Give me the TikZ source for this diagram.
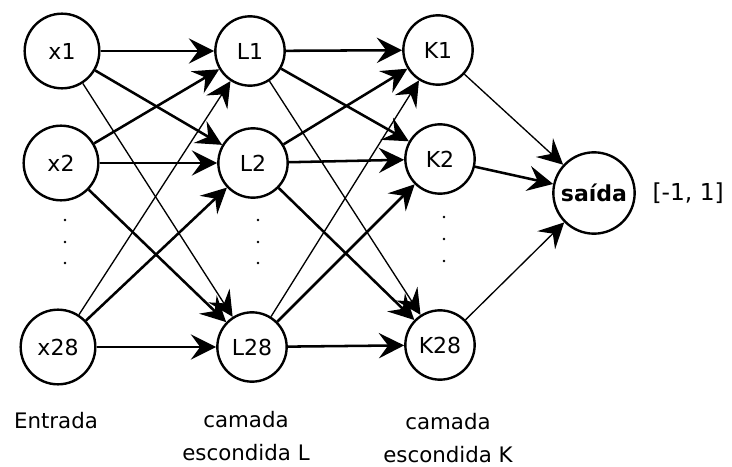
\documentclass[tikz,border=0pt]{standalone}
\usepackage{fontspec}
\setmainfont{DejaVu Sans}
\usetikzlibrary{arrows.meta, positioning}

\begin{document}
\begin{tikzpicture}[x=0.75pt, y=-0.75pt]
    \tikzset{
  neuron/.style={circle, draw=black, fill=white, line width=1.8pt,
    minimum size=56pt, inner sep=0pt, font=\fontsize{16.5}{19}\selectfont},
  hidneuron/.style={neuron, minimum size=52pt},
  outneuron/.style={neuron, minimum size=61pt,
    font=\fontsize{16.5}{19}\selectfont\bfseries},
  strong/.style={-{Stealth[length=19pt, width=19pt, inset=7pt]}, line width=1.9pt},
  weak/.style={-{Stealth[length=19pt, width=19pt, inset=7pt]}, line width=1pt},
  lbl/.style={align=center, font=\fontsize{16}{24.5}\selectfont},
}
\useasboundingbox (0,0) rectangle (732,467);

% ── Input layer ──────────────────────────────────────────────
\node[neuron] (in1)  at (62, 51)  {x1};
\node[neuron] (in2)  at (61, 163) {x2};
\node[neuron] (in28) at (58, 347) {x28};

% ── Hidden layer L ───────────────────────────────────────────
\node[hidneuron] (l1)  at (250, 51)  {L1};
\node[hidneuron] (l2)  at (253, 163) {L2};
\node[hidneuron] (l28) at (252, 347) {L28};

% ── Hidden layer K ───────────────────────────────────────────
\node[hidneuron] (k1)  at (438, 50)  {K1};
\node[hidneuron] (k2)  at (440, 159) {K2};
\node[hidneuron] (k28) at (440, 345) {K28};

% ── Output ───────────────────────────────────────────────────
\node[outneuron] (out) at (594, 193) {saída};
\node[lbl, font=\fontsize{17.5}{20}\selectfont, right=9pt of out] (range) {[-1, 1]};

% ── Vertical dots between 2 and 28 ───────────────────────────
\foreach \cx/\cy in {65/220, 65/242, 65/263, 258/220, 258/242, 258/263,
                     444/217, 444/239, 444/261}{
  \fill (\cx,\cy) circle (1.3);
}

% ── Edges (input → L) ────────────────────────────────────────
\foreach \a/\b in {in1/l1, in1/l2, in2/l1, in2/l2, in2/l28, in28/l2, in28/l28}{
  \draw[strong] (\a) -- (\b);
}
\draw[weak] (in1) -- (l28); \draw[weak] (in28) -- (l1);

% ── Edges (L → K) ────────────────────────────────────────────
\foreach \a/\b in {l1/k1, l1/k2, l2/k1, l2/k2, l2/k28, l28/k2, l28/k28}{
  \draw[strong] (\a) -- (\b);
}
\draw[weak] (l1) -- (k28); \draw[weak] (l28) -- (k1);

% ── Edges (K → output) ───────────────────────────────────────
\draw[weak] (k1) -- (out);
\draw[strong] (k2) -- (out);
\draw[weak] (k28) -- (out);

% ── Layer captions ───────────────────────────────────────────
\node[lbl] (capin) at (56, 421)  {Entrada};
\node[lbl] (capl)  at (246, 436) {camada\\escondida L};
\node[lbl] (capk)  at (448, 438) {camada\\escondida K};

  \end{tikzpicture}
\end{document}
